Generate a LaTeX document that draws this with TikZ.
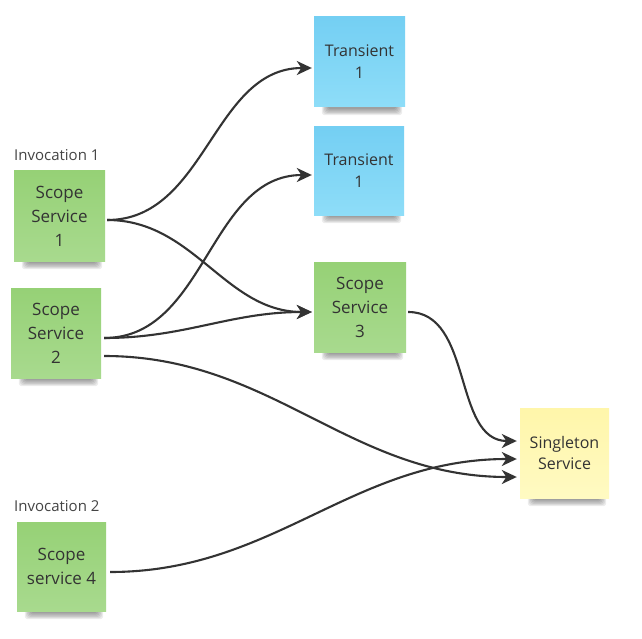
\documentclass[tikz,border=0pt]{standalone}
\usepackage{fontspec}
\setmainfont{Open Sans}
\usetikzlibrary{arrows.meta,backgrounds}

\definecolor{ink}{HTML}{333333}
\definecolor{labelgrey}{HTML}{444444}
\definecolor{greentop}{HTML}{96D176}
\definecolor{greenbot}{HTML}{A8DA8E}
\definecolor{bluetop}{HTML}{74CFF3}
\definecolor{bluebot}{HTML}{8EDDF8}
\definecolor{yellowtop}{HTML}{FFF6AA}
\definecolor{yellowbot}{HTML}{FFFAC2}

\tikzset{
  note/.style={inner sep=0pt, align=center, text=ink, font=\fontsize{17}{24}\selectfont},
  greennote/.style={note, top color=greentop, bottom color=greenbot},
  bluenote/.style={note, top color=bluetop, bottom color=bluebot, font=\fontsize{16}{22}\selectfont},
  yellownote/.style={note, top color=yellowtop, bottom color=yellowbot, font=\fontsize{16}{21.5}\selectfont},
  grouplabel/.style={text=labelgrey, font=\fontsize{15}{18}\selectfont, inner sep=0pt},
  link/.style={draw=ink, line width=2.1pt, -{Stealth[length=15pt, width=14pt, inset=4.5pt]},
               out=0, in=180, shorten >=2pt, shorten <=2pt},
}

% soft shadow under the bottom edge of a note
\newcommand\noteshadow[1]{%
  \foreach \i in {0,...,5}{%
    \fill[black, opacity=0.075, rounded corners=3pt]
      ([xshift={(8+1.2*\i)*1pt}, yshift=3pt]#1.south west) rectangle
      ([xshift={-(3+1.2*\i)*1pt}, yshift={-(8-1.2*\i)*1pt}]#1.south east);
  }%
}

\begin{document}
\begin{tikzpicture}[x=1pt, y=-1pt]
  \useasboundingbox (0,0) rectangle (642,639);

  % sticky notes
  \node[bluenote, minimum width=91pt, minimum height=90pt] (t1) at (359.5,62) {Transient\\1};
  \node[bluenote, minimum width=90pt, minimum height=88pt] (t2) at (359,171) {Transient\\1};
  \node[greennote, minimum width=91pt, minimum height=90pt] (s1) at (59.5,216) {Scope\\Service\\1};
  \node[greennote, minimum width=90pt, minimum height=90pt] (s2) at (56,333) {Scope\\Service\\2};
  \node[greennote, minimum width=92pt, minimum height=90pt] (s3) at (360,307) {Scope\\Service\\3};
  \node[yellownote, minimum width=89pt, minimum height=90pt] (sg) at (564.5,453) {Singleton\\Service};
  \node[greennote, minimum width=89pt, minimum height=89pt] (s4) at (61.5,566.5) {Scope\\service 4};

  % group labels
  \node[grouplabel, anchor=west] (inv1) at (14,155) {Invocation 1};
  \node[grouplabel, anchor=west] (inv2) at (14,506) {Invocation 2};

  \begin{scope}[on background layer]
    \fill[white] (0,0) rectangle (642,639);
    \noteshadow{t1}
    \noteshadow{t2}
    \noteshadow{s1}
    \noteshadow{s2}
    \noteshadow{s3}
    \noteshadow{sg}
    \noteshadow{s4}
  \end{scope}

  % dependencies
  \draw[link] ([yshift=-4pt]s1.east) to ([yshift=-6pt]t1.west);
  \draw[link] ([yshift=-4pt]s1.east) to ([yshift=-5pt]s3.west);
  \draw[link, shorten <=3pt] ([yshift=-5pt]s2.east) to ([yshift=-4pt]t2.west);
  \draw[link, shorten <=3pt] ([yshift=-5pt]s2.east) to ([yshift=-5pt]s3.west);
  \draw[link, shorten <=3pt, shorten >=3pt] ([yshift=-23pt]s2.east) to ([yshift=-24pt]sg.west);
  \draw[link, shorten >=3pt] ([yshift=-5pt]s3.east) to ([yshift=12pt]sg.west);
  \draw[link, shorten <=4pt, shorten >=3pt] ([yshift=-5.5pt]s4.east) to ([yshift=-6pt]sg.west);
\end{tikzpicture}
\end{document}
